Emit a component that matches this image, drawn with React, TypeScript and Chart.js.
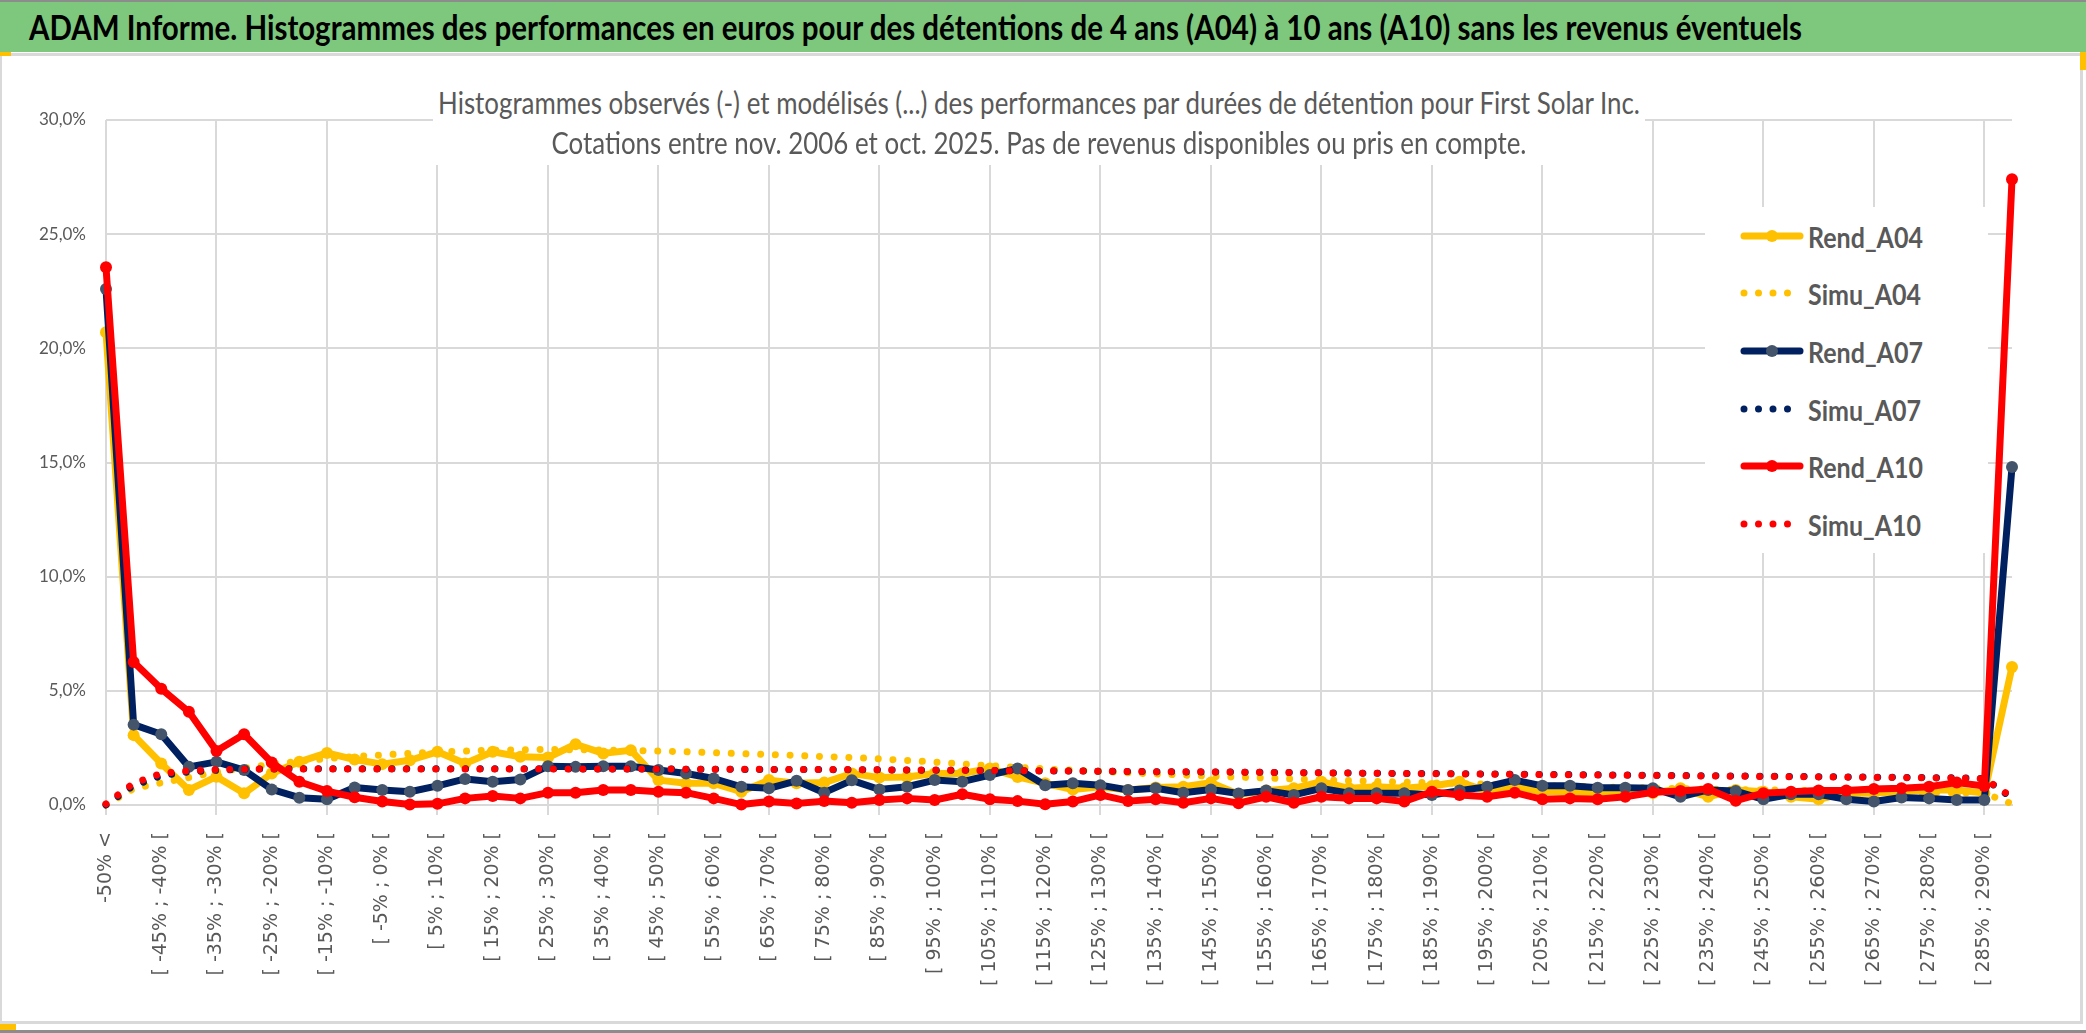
import React, { useEffect, useRef } from 'react';
import Chart from 'chart.js/auto';

const CALIBRI_LIKE = "Lato, 'Open Sans', sans-serif";
const TEXT_GREY = '#595959';
const GRID = '#d9d9d9';

// categories of performance
const categories: string[] = [
  '-50% <',
  '[ -50% ; -45% [', '[ -45% ; -40% [', '[ -40% ; -35% [', '[ -35% ; -30% [', '[ -30% ; -25% [',
  '[ -25% ; -20% [', '[ -20% ; -15% [', '[ -15% ; -10% [', '[ -10% ; -5% [', '[ -5% ; 0% [',
  '[ 0% ; 5% [', '[ 5% ; 10% [', '[ 10% ; 15% [', '[ 15% ; 20% [', '[ 20% ; 25% [',
  '[ 25% ; 30% [', '[ 30% ; 35% [', '[ 35% ; 40% [', '[ 40% ; 45% [', '[ 45% ; 50% [',
  '[ 50% ; 55% [', '[ 55% ; 60% [', '[ 60% ; 65% [', '[ 65% ; 70% [', '[ 70% ; 75% [',
  '[ 75% ; 80% [', '[ 80% ; 85% [', '[ 85% ; 90% [', '[ 90% ; 95% [', '[ 95% ; 100% [',
  '[ 100% ; 105% [', '[ 105% ; 110% [', '[ 110% ; 115% [', '[ 115% ; 120% [', '[ 120% ; 125% [',
  '[ 125% ; 130% [', '[ 130% ; 135% [', '[ 135% ; 140% [', '[ 140% ; 145% [', '[ 145% ; 150% [',
  '[ 150% ; 155% [', '[ 155% ; 160% [', '[ 160% ; 165% [', '[ 165% ; 170% [', '[ 170% ; 175% [',
  '[ 175% ; 180% [', '[ 180% ; 185% [', '[ 185% ; 190% [', '[ 190% ; 195% [', '[ 195% ; 200% [',
  '[ 200% ; 205% [', '[ 205% ; 210% [', '[ 210% ; 215% [', '[ 215% ; 220% [', '[ 220% ; 225% [',
  '[ 225% ; 230% [', '[ 230% ; 235% [', '[ 235% ; 240% [', '[ 240% ; 245% [', '[ 245% ; 250% [',
  '[ 250% ; 255% [', '[ 255% ; 260% [', '[ 260% ; 265% [', '[ 265% ; 270% [', '[ 270% ; 275% [',
  '[ 275% ; 280% [', '[ 280% ; 285% [', '[ 285% ; 290% [',
  '> 290%',
];

const yTicks: number[] = [0, 5, 10, 15, 20, 25, 30];

// observed histograms (%)
const rendA04: number[] = [
  20.7, 3.06, 1.82, 0.66, 1.24, 0.51, 1.38, 1.89, 2.28, 1.99,
  1.79, 1.96, 2.33, 1.82, 2.33, 2.11, 2.08, 2.66, 2.26, 2.40,
  1.09, 0.95, 0.95, 0.58, 1.09, 0.95, 0.98, 1.38, 1.20, 1.23,
  1.38, 1.38, 1.60, 1.23, 0.95, 0.68, 0.80, 0.66, 0.77, 0.80,
  0.98, 0.47, 0.63, 0.73, 1.02, 0.73, 0.80, 0.73, 0.83, 1.02,
  0.60, 0.80, 0.58, 0.58, 0.52, 0.58, 0.52, 0.73, 0.36, 0.66,
  0.58, 0.36, 0.25, 0.52, 0.52, 0.58, 0.66, 0.66, 0.52, 6.04,
];
const rendA07: number[] = [
  22.6, 3.52, 3.10, 1.67, 1.89, 1.53, 0.68, 0.32, 0.25, 0.77,
  0.66, 0.58, 0.84, 1.14, 1.02, 1.12, 1.70, 1.67, 1.70, 1.70,
  1.53, 1.38, 1.16, 0.80, 0.73, 1.06, 0.54, 1.08, 0.68, 0.80,
  1.09, 1.02, 1.31, 1.60, 0.87, 0.95, 0.87, 0.66, 0.73, 0.54,
  0.68, 0.50, 0.63, 0.44, 0.73, 0.52, 0.52, 0.52, 0.44, 0.63,
  0.80, 1.09, 0.84, 0.84, 0.76, 0.76, 0.73, 0.36, 0.66, 0.61,
  0.25, 0.47, 0.47, 0.25, 0.15, 0.33, 0.29, 0.22, 0.22, 14.8,
];
const rendA10: number[] = [
  23.55, 6.26, 5.09, 4.08, 2.37, 3.10, 1.86, 1.02, 0.61, 0.34,
  0.15, 0.02, 0.05, 0.29, 0.39, 0.29, 0.54, 0.54, 0.66, 0.66,
  0.58, 0.54, 0.29, 0.02, 0.15, 0.07, 0.17, 0.10, 0.22, 0.29,
  0.22, 0.47, 0.25, 0.17, 0.03, 0.15, 0.44, 0.17, 0.25, 0.10,
  0.29, 0.08, 0.36, 0.10, 0.36, 0.29, 0.29, 0.15, 0.58, 0.44,
  0.36, 0.54, 0.25, 0.29, 0.25, 0.36, 0.56, 0.61, 0.70, 0.19,
  0.52, 0.58, 0.63, 0.63, 0.70, 0.73, 0.80, 0.98, 0.83, 27.4,
];

// modelled histograms (%)
const simuA04: number[] = [
  0.00, 0.72, 0.97, 1.20, 1.45, 1.62, 1.78, 1.92, 2.03, 2.12,
  2.19, 2.26, 2.32, 2.36, 2.40, 2.42, 2.43, 2.42, 2.41, 2.39,
  2.36, 2.33, 2.29, 2.25, 2.21, 2.17, 2.12, 2.08, 2.02, 1.95,
  1.88, 1.80, 1.72, 1.65, 1.58, 1.52, 1.47, 1.41, 1.36, 1.31,
  1.26, 1.22, 1.18, 1.14, 1.10, 1.07, 1.03, 1.00, 0.97, 0.94,
  0.91, 0.88, 0.85, 0.82, 0.79, 0.77, 0.74, 0.72, 0.70, 0.68,
  0.66, 0.64, 0.62, 0.60, 0.58, 0.56, 0.55, 0.53, 0.52, 0.05,
];
const simuA07: number[] = [
  0.00, 0.85, 1.28, 1.45, 1.52, 1.56, 1.58, 1.59, 1.59, 1.59,
  1.59, 1.59, 1.59, 1.59, 1.59, 1.59, 1.59, 1.58, 1.58, 1.58,
  1.58, 1.57, 1.57, 1.56, 1.56, 1.55, 1.55, 1.54, 1.54, 1.53,
  1.52, 1.52, 1.51, 1.50, 1.49, 1.49, 1.48, 1.47, 1.46, 1.45,
  1.45, 1.44, 1.43, 1.42, 1.41, 1.40, 1.39, 1.38, 1.38, 1.37,
  1.36, 1.35, 1.34, 1.33, 1.32, 1.31, 1.30, 1.29, 1.28, 1.27,
  1.26, 1.25, 1.24, 1.23, 1.22, 1.21, 1.20, 1.19, 1.16, 0.30,
];
const simuA10: number[] = [
  0.05, 0.95, 1.38, 1.50, 1.55, 1.57, 1.58, 1.58, 1.58, 1.58,
  1.58, 1.58, 1.58, 1.58, 1.58, 1.58, 1.58, 1.58, 1.58, 1.58,
  1.58, 1.57, 1.57, 1.57, 1.56, 1.56, 1.55, 1.55, 1.54, 1.53,
  1.53, 1.52, 1.51, 1.50, 1.50, 1.49, 1.48, 1.47, 1.46, 1.46,
  1.45, 1.44, 1.43, 1.42, 1.41, 1.40, 1.39, 1.38, 1.37, 1.36,
  1.35, 1.34, 1.33, 1.32, 1.31, 1.30, 1.29, 1.28, 1.27, 1.26,
  1.25, 1.24, 1.23, 1.22, 1.21, 1.20, 1.19, 1.18, 1.15, 0.35,
];

const headerTitle =
  'ADAM Informe. Histogrammes des performances en euros pour des détentions de 4 ans (A04) à 10 ans (A10) sans les revenus éventuels';
const chartTitle1 =
  'Histogrammes observés (-) et modélisés (...) des performances par durées de détention pour First Solar Inc.';
const chartTitle2 = 'Cotations entre nov. 2006 et oct. 2025. Pas de revenus disponibles ou pris en compte.';

interface Serie {
  label: string;
  data: number[];
  color: string;
  marker: string;
  dotted: boolean;
}

const series: Serie[] = [
  { label: 'Rend_A04', data: rendA04, color: '#FFC000', marker: '#FFC000', dotted: false },
  { label: 'Simu_A04', data: simuA04, color: '#FFC000', marker: '#FFC000', dotted: true },
  { label: 'Rend_A07', data: rendA07, color: '#002060', marker: '#44546A', dotted: false },
  { label: 'Simu_A07', data: simuA07, color: '#002060', marker: '#002060', dotted: true },
  { label: 'Rend_A10', data: rendA10, color: '#FF0000', marker: '#FF0000', dotted: false },
  { label: 'Simu_A10', data: simuA10, color: '#FF0000', marker: '#FF0000', dotted: true },
];

// font size that makes a text span a given width (no Calibri available)
const measureCtx = document.createElement('canvas').getContext('2d');
function fitSize(text: string, weight: string, target: number): number {
  if (!measureCtx) return 20;
  measureCtx.font = `${weight} 100px ${CALIBRI_LIKE}`;
  const w = measureCtx.measureText(text).width;
  return w > 0 ? Math.round((1000 * target) / w) / 10 : 20;
}

// Calibri is narrower than Lato: stretch a bit vertically
const STRETCH = 'scaleY(1.18)';

const HistoChart: React.FC = () => {
  const canvasRef = useRef<HTMLCanvasElement>(null);

  useEffect(() => {
    if (!canvasRef.current) return;
    const yFont = fitSize('30,0%', 'normal', 47);
    const chart = new Chart(canvasRef.current, {
      type: 'line',
      data: {
        labels: categories,
        datasets: series.map((s, i) => ({
          label: s.label,
          data: s.data,
          borderColor: s.color,
          backgroundColor: s.marker,
          borderWidth: 7,
          borderDash: s.dotted ? [0.01, 14.7] : [],
          borderCapStyle: 'round' as const,
          borderJoinStyle: 'round' as const,
          pointRadius: s.dotted ? 0 : 6,
          pointBackgroundColor: s.marker,
          pointBorderColor: s.marker,
          pointBorderWidth: 0,
          tension: 0,
          fill: false,
          clip: false as const,
          // last series on top, like excel
          order: series.length - i,
        })),
      },
      options: {
        animation: false,
        responsive: true,
        maintainAspectRatio: false,
        events: [],
        layout: { padding: { top: 63, right: 74, bottom: 0, left: 0 } },
        plugins: {
          legend: { display: false },
          title: { display: false },
          tooltip: { enabled: false },
        },
        scales: {
          x: {
            type: 'category',
            offset: false,
            grid: {
              color: (c: any) => (c.index % 4 === 0 ? GRID : 'rgba(0,0,0,0)'),
              lineWidth: 2,
              drawTicks: true,
              tickLength: 10,
              offset: false,
            },
            border: { color: GRID, width: 2 },
            ticks: {
              autoSkip: false,
              minRotation: 90,
              maxRotation: 90,
              padding: 17,
              color: TEXT_GREY,
              font: { family: 'DejaVu Sans', size: 19 },
              callback: (_v: any, i: number) => (i % 2 === 0 ? categories[i] : ''),
            },
            afterFit: (scale: any) => {
              scale.height = 212;
            },
          },
          y: {
            min: yTicks[0],
            max: yTicks[yTicks.length - 1],
            afterBuildTicks: (scale: any) => {
              scale.ticks = yTicks.map((v) => ({ value: v }));
            },
            ticks: {
              padding: 20,
              color: TEXT_GREY,
              font: { family: CALIBRI_LIKE, size: yFont },
              callback: (v: any) => Number(v).toFixed(1).replace('.', ',') + '%',
            },
            grid: { color: GRID, lineWidth: 2, drawTicks: false },
            border: { display: false },
            afterFit: (scale: any) => {
              scale.width = 106;
            },
          },
        },
      },
    });
    return () => chart.destroy();
  }, []);

  return <canvas ref={canvasRef} />;
};

const LegendSample: React.FC<{ s: Serie }> = ({ s }) =>
  s.dotted ? (
    <svg width={64} height={20}>
      <line x1={4} y1={10} x2={62} y2={10} stroke={s.color} strokeWidth={7}
        strokeLinecap="round" strokeDasharray="0 14.5" />
    </svg>
  ) : (
    <svg width={64} height={20}>
      <line x1={4} y1={10} x2={60} y2={10} stroke={s.color} strokeWidth={7} strokeLinecap="round" />
      <circle cx={32} cy={10} r={6} fill={s.marker} />
    </svg>
  );

const stretched: React.CSSProperties = { display: 'inline-block', transform: STRETCH, transformOrigin: 'center' };

const App: React.FC = () => {
  const headerSize = fitSize(headerTitle, 'bold', 1776);
  const titleSize = fitSize(chartTitle1, 'normal', 1205);
  const legendSize = fitSize('Rend_A04', 'bold', 115);

  return (
    <div style={{ position: 'relative', width: 2086, height: 1033, background: '#fff', overflow: 'hidden' }}>
      <style>{'body{margin:0}'}</style>
      {/* header band */}
      <div style={{ position: 'absolute', left: 0, top: 0, width: 2086, height: 2, background: '#8c8c8c' }} />
      <div
        style={{
          position: 'absolute', left: 0, top: 2, width: 2086, height: 50, background: '#7dc87d',
          fontFamily: CALIBRI_LIKE, fontWeight: 'bold', fontSize: headerSize, lineHeight: '50px', color: '#000',
          paddingLeft: 29, boxSizing: 'border-box', whiteSpace: 'nowrap',
        }}
      >
        <span style={stretched}>{headerTitle}</span>
      </div>
      <div style={{ position: 'absolute', left: 0, top: 53, width: 2086, height: 3, background: GRID }} />
      {/* chart frame */}
      <div style={{
        position: 'absolute', left: 0, top: 56, width: 2083, height: 968, boxSizing: 'border-box',
        borderLeft: `2px solid ${GRID}`, borderRight: `3px solid ${GRID}`, borderBottom: `3px solid ${GRID}`,
      }} />
      <div style={{ position: 'absolute', left: 0, top: 1030, width: 2086, height: 3, background: '#8c8c8c' }} />
      <div style={{ position: 'absolute', left: 0, top: 52, width: 11, height: 4, background: '#FFC000' }} />
      <div style={{ position: 'absolute', left: 2080, top: 52, width: 6, height: 18, background: '#FFC000' }} />
      <div style={{ position: 'absolute', left: 0, top: 1024, width: 16, height: 6, background: '#FFC000' }} />

      <div style={{ position: 'absolute', left: 0, top: 57, width: 2086, height: 960 }}>
        <HistoChart />
      </div>

      {/* chart title, it hides the grid behind it */}
      <div style={{
        position: 'absolute', left: 433, top: 60, width: 1212, height: 105, background: '#fff',
        fontFamily: CALIBRI_LIKE, fontSize: titleSize, color: TEXT_GREY, textAlign: 'center',
        paddingTop: 22, boxSizing: 'border-box', lineHeight: '40px', whiteSpace: 'nowrap',
      }}>
        <div><span style={stretched}>{chartTitle1}</span></div>
        <div><span style={stretched}>{chartTitle2}</span></div>
      </div>

      {/* legend */}
      <div style={{
        position: 'absolute', left: 1705, top: 207, width: 283, height: 346, background: '#fff',
        fontFamily: CALIBRI_LIKE, fontWeight: 'bold', fontSize: legendSize, color: TEXT_GREY,
      }}>
        {series.map((s) => (
          <div key={s.label} style={{ display: 'flex', alignItems: 'center', height: 57.6, paddingLeft: 35 }}>
            <LegendSample s={s} />
            <span style={{ ...stretched, marginLeft: 4 }}>{s.label}</span>
          </div>
        ))}
      </div>
    </div>
  );
};

export default App;
